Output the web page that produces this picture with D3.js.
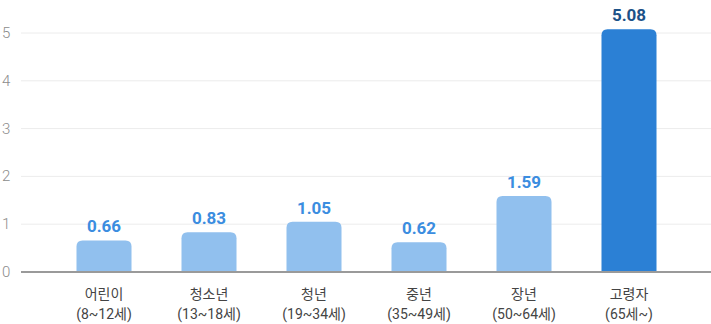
<!DOCTYPE html>
<html>
<head>
<meta charset="utf-8">
<script src="https://cdn.jsdelivr.net/npm/d3@7"></script>
<style>
    body { margin: 0; background: #fff; }
    svg { font-family: Roboto, "Noto Sans CJK KR", sans-serif; }
    .grid line { stroke: #ececec; stroke-width: 1; }
    .baseline { stroke: #9a9a9a; stroke-width: 2; }
    .yLabel { fill: #8c8c8c; font-size: 15px; font-weight: 300; }
    .xLabel { fill: #444; font-size: 14px; text-anchor: middle; }
    .valueLabel { font-size: 17px; font-weight: 700; text-anchor: middle; }
</style>
</head>
<body>
<script>
'use strict';

const groups = ['어린이', '청소년', '청년', '중년', '장년', '고령자'];
const ageRanges = ['(8~12세)', '(13~18세)', '(19~34세)', '(35~49세)', '(50~64세)', '(65세~)'];
const values = [0.66, 0.83, 1.05, 0.62, 1.59, 5.08];
const yTicks = [0, 1, 2, 3, 4, 5];

const plot = {
    width: 711,
    height: 324,
    left: 21,
    right: 711,
    top: 33,
    bottom: 272
};

const svg = d3.select('body').append('svg')
    .attr('width', plot.width)
    .attr('height', plot.height);

const x = d3.scaleBand()
    .domain(groups)
    .range([51.5, 681.5])
    .paddingInner(0.476)
    .paddingOuter(0.238);

const y = d3.scaleLinear()
    .domain([0, 5])
    .range([plot.bottom, plot.top]);

// grid lines
const grid = svg.append('g').attr('class', 'grid');
grid.selectAll('line')
    .data(yTicks.filter(d => d > 0))
    .enter().append('line')
    .attr('x1', plot.left)
    .attr('x2', plot.right)
    .attr('y1', d => y(d))
    .attr('y2', d => y(d));

svg.append('g').selectAll('text')
    .data(yTicks)
    .enter().append('text')
    .attr('class', 'yLabel')
    .attr('x', 2)
    .attr('y', d => y(d) + 5)
    .text(d => d);

// bars with rounded top corners
const r = 6;
function barPath(x0, w, yTop, yBase) {
    const rr = Math.min(r, (yBase - yTop));
    return 'M' + x0 + ',' + yBase
        + 'V' + (yTop + rr)
        + 'Q' + x0 + ',' + yTop + ' ' + (x0 + rr) + ',' + yTop
        + 'H' + (x0 + w - rr)
        + 'Q' + (x0 + w) + ',' + yTop + ' ' + (x0 + w) + ',' + (yTop + rr)
        + 'V' + yBase + 'Z';
}

const last = groups.length - 1;
svg.append('g').selectAll('path')
    .data(values)
    .enter().append('path')
    .attr('d', (d, i) => barPath(x(groups[i]), x.bandwidth(), y(d), y(0)))
    .attr('fill', (d, i) => i === last ? '#2b80d5' : '#91c0ee');

svg.append('line')
    .attr('class', 'baseline')
    .attr('x1', plot.left)
    .attr('x2', plot.right)
    .attr('y1', y(0))
    .attr('y2', y(0));

// value labels
svg.append('g').selectAll('text')
    .data(values)
    .enter().append('text')
    .attr('class', 'valueLabel')
    .attr('x', (d, i) => x(groups[i]) + x.bandwidth() / 2)
    .attr('y', d => y(d) - 8)
    .attr('fill', (d, i) => i === last ? '#1d5288' : '#3b8de0')
    .text(d => d.toFixed(2));

// category labels
const xl = svg.append('g');
groups.forEach((g, i) => {
    const cx = x(g) + x.bandwidth() / 2;
    xl.append('text').attr('class', 'xLabel')
        .attr('x', cx).attr('y', 299).text(g);
    xl.append('text').attr('class', 'xLabel')
        .attr('x', cx).attr('y', 319).text(ageRanges[i]);
});
</script>
</body>
</html>
